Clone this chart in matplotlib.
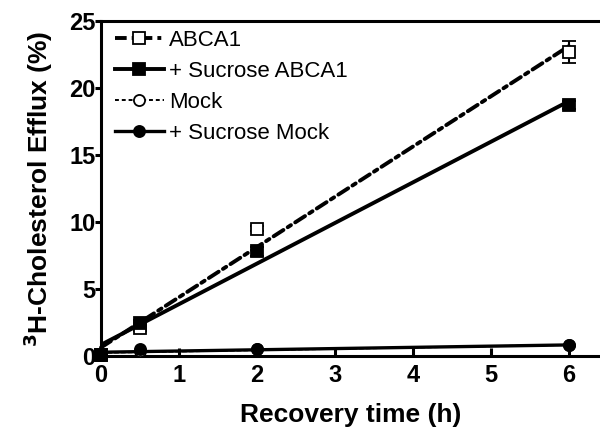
import numpy as np
import matplotlib
matplotlib.use("Agg")
import matplotlib.pyplot as plt
from matplotlib.lines import Line2D

plt.rcParams['font.family'] = ['Liberation Sans', 'DejaVu Sans']

# recovery time (h)
time = [0, 0.5, 2, 6]

# 3H-cholesterol efflux (%)
abca1 = [0.1, 2.1, 9.5, 22.7]
abca1_err = [0.1, 0.2, 0.2, 0.8]
suc_abca1 = [0.1, 2.5, 7.8, 18.7]
suc_abca1_err = [0.1, 0.2, 0.3, 0.3]
mock = [0.1, 0.4, 0.5, 0.8]
suc_mock = [0.1, 0.5, 0.5, 0.8]

labels = ["ABCA1", "+ Sucrose ABCA1", "Mock", "+ Sucrose Mock"]

fig = plt.figure(figsize=(6, 4.32), dpi=100)
ax = fig.add_axes([101 / 600, 76 / 432, 499 / 600, 335 / 432])

styles = [
    dict(y=abca1, err=abca1_err, marker='s', mfc='white', lw=2.8,
         dashes=(3.0, 1.3, 1.0, 1.3)),
    dict(y=suc_abca1, err=suc_abca1_err, marker='s', mfc='black', lw=2.8,
         dashes=None),
    dict(y=mock, err=None, marker='o', mfc='white', lw=1.4,
         dashes=(2.0, 1.5)),
    dict(y=suc_mock, err=None, marker='o', mfc='black', lw=2.4,
         dashes=None),
]

xfit = np.array([0, 6])
handles = []
for st, lab in zip(styles, labels):
    slope, icpt = np.polyfit(time, st['y'], 1)
    ln, = ax.plot(xfit, slope * xfit + icpt, color='black', lw=st['lw'],
                  solid_capstyle='butt', clip_on=False)
    if st['dashes'] is not None:
        ln.set_dashes(st['dashes'])
        ln.set_dash_capstyle('round')
    ax.errorbar(time, st['y'], yerr=st['err'], fmt=st['marker'], ms=8,
                mfc=st['mfc'], mec='black', mew=1.3, ecolor='black',
                elinewidth=1.5, capsize=5, capthick=2.5, clip_on=False,
                zorder=5)
    h = Line2D([], [], color='black', lw=st['lw'], marker=st['marker'],
               ms=8, mfc=st['mfc'], mec='black', mew=1.3)
    if st['dashes'] is not None:
        h.set_dashes(st['dashes'])
    handles.append(h)

ax.set_xlim(0, 6.4)
ax.set_ylim(0, 25)
ax.set_xticks(range(7))
ax.set_yticks(range(0, 26, 5))

for side in ['left', 'bottom', 'top']:
    ax.spines[side].set_linewidth(2.2)
ax.spines['right'].set_visible(False)

ax.tick_params(axis='y', direction='out', length=4, width=2.2,
               labelsize=17, pad=0)
ax.tick_params(axis='x', direction='in', length=6, width=2.2,
               labelsize=17, pad=6)
for t in ax.get_xticklabels() + ax.get_yticklabels():
    t.set_fontweight('bold')

ax.set_xlabel("Recovery time (h)", fontsize=19, fontweight='bold', labelpad=11)
ax.set_ylabel("$\\mathbf{^{3}}$H-Cholesterol Efflux (%)", fontsize=19,
              fontweight='bold', labelpad=10)

ax.legend(handles, labels, loc='upper left', frameon=False, fontsize=16,
          handlelength=2.2, handletextpad=0.25, labelspacing=0.45,
          borderaxespad=0.0, bbox_to_anchor=(0.01, 1.0))

fig.savefig("out.png", dpi=100)
